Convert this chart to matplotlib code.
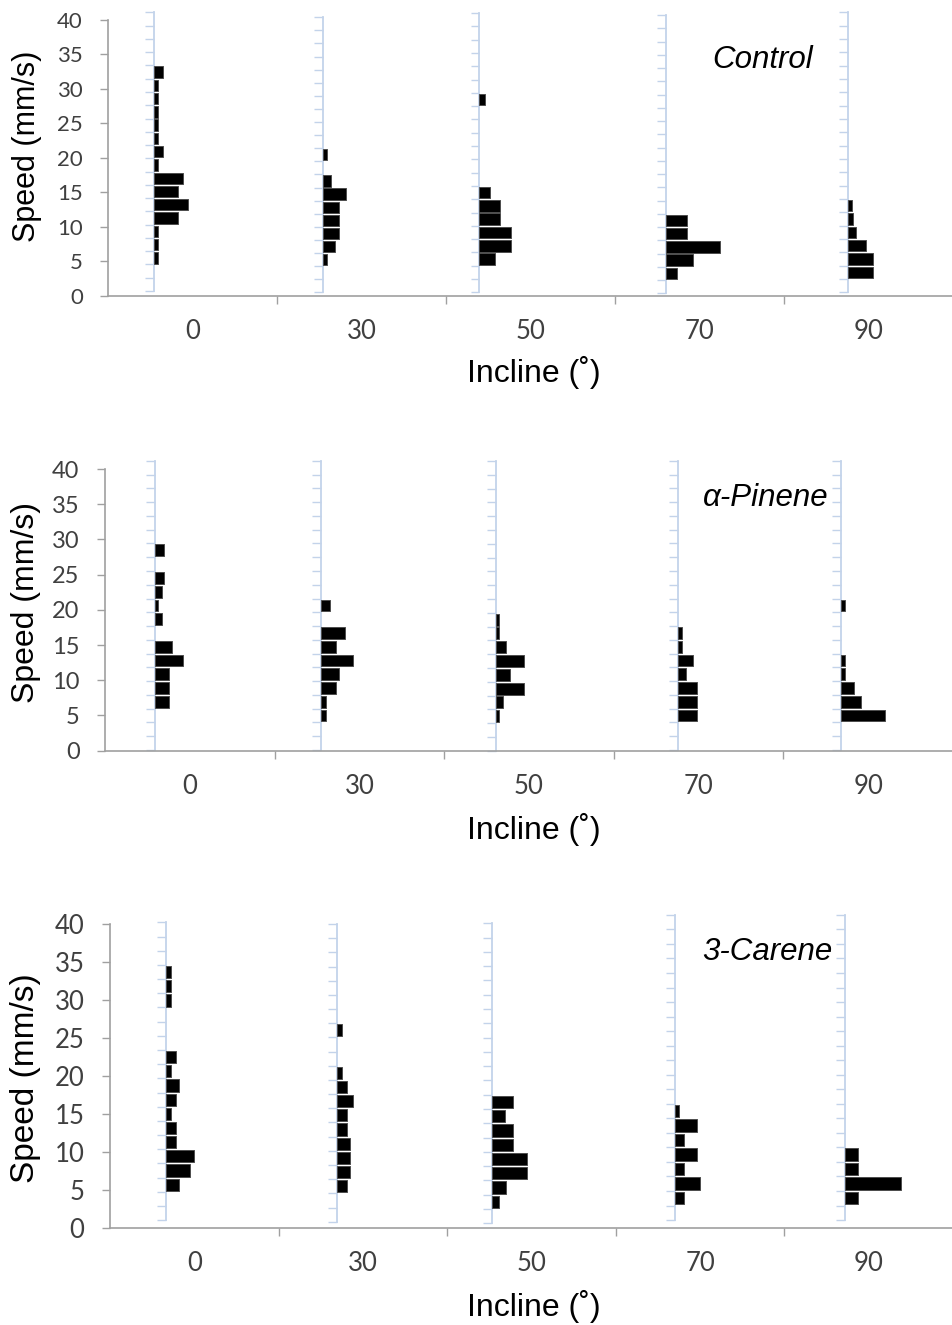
import matplotlib.pyplot as plt
import numpy as np

W, H = 953, 1325

inclines = ['0', '30', '50', '70', '90']
panel_names = ['Control', 'α-Pinene', '3-Carene']

# lower speed edge (mm/s) of the first bar in each histogram (bins are 2 mm/s)
control_start = [4, 4, 4, 2, 2]
pinene_start = [6, 4, 4, 4, 4]
carene_start = [4, 4, 2, 2, 2]

# bar lengths (relative frequency, common arbitrary unit), one list per incline
control_freq = [
    [4, 4, 4, 24.3, 34.3, 24.3, 29.3, 4, 9, 4, 4, 4, 4, 4, 9],
    [4.3, 11.7, 15.7, 15.7, 15.7, 23.3, 8.3, 0, 4.3],
    [15.7, 32.3, 32.3, 20.7, 20.7, 10.7, 0, 0, 0, 0, 0, 0, 5.7],
    [10.7, 27.3, 54, 20.7, 20.7],
    [26, 26, 18.7, 8.3, 5, 4.3],
]
pinene_freq = [
    [14, 14, 14, 29, 17.3, 0, 7.3, 3.3, 7.3, 9.7, 0, 9.7],
    [5, 5, 14.3, 17.7, 32.3, 14.3, 23.3, 0, 9],
    [2.7, 6.7, 28.3, 14.3, 28.3, 10.3, 2.7, 2.7],
    [18.3, 18.3, 18.3, 7.7, 14.3, 3.7, 3.7],
    [44.3, 20, 12.7, 3.3, 3.3, 0, 0, 0, 3.3],
]
carene_freq = [
    [13.7, 24.3, 28.3, 10, 10, 5, 10, 13.7, 5, 10, 0, 0, 0, 5, 5, 5],
    [10, 13.7, 13.7, 13.7, 10, 10, 16, 10, 5, 0, 0, 5],
    [7.3, 14, 35, 35, 21, 21, 13.3, 21],
    [8.7, 25.3, 8.7, 21.7, 8.7, 21.7, 3.3],
    [13.7, 57.7, 13.7, 13.7],
]

# layout (pixels of the 953x1325 picture)
panels = [
    dict(start=control_start, freq=control_freq, left=108.3, top=20, bottom=295.7, step=170.4,
         dx=[-0.230, -0.228, -0.303, -0.198, -0.124],
         lo=[0.68, 0.49, 0.49, 0.35, 0.49], hi=[41.1, 40.4, 41.0, 40.7, 41.1],
         ytick_fs=16, ylab=(27, 146, 22), xlab_y=372, name_xy=(763, 60)),
    dict(start=pinene_start, freq=pinene_freq, left=105, top=469, bottom=750.7, step=170.8,
         dx=[-0.207, -0.224, -0.193, -0.119, -0.158],
         lo=[0.1, 0.1, 0.0, 0.1, 0.1], hi=[41.15, 41.15, 41.15, 41.15, 41.15],
         ytick_fs=17, ylab=(26, 603, 23), xlab_y=829, name_xy=(766, 498)),
    dict(start=carene_start, freq=carene_freq, left=110, top=924, bottom=1227.7, step=171,
         dx=[-0.168, -0.155, -0.233, -0.147, -0.143],
         lo=[1.01, 0.79, 0.58, 1.01, 1.01], hi=[40.2, 40.0, 40.1, 41.2, 41.2],
         ytick_fs=18.5, ylab=(26, 1078, 24), xlab_y=1306, name_xy=(767, 952)),
]

AXIS_GRAY = '#a0a0a0'
TICK_TXT = '#404040'
MINI_BLUE = '#c3d3ea'
SANS = ['Liberation Sans', 'DejaVu Sans']

fig = plt.figure(figsize=(W / 100, H / 100), dpi=100)

for p, name in zip(panels, panel_names):
    rect = [p['left'] / W, 1 - p['bottom'] / H, (W - p['left']) / W, (p['bottom'] - p['top']) / H]
    ax = fig.add_axes(rect)
    ax.set_xlim(-0.5, -0.5 + (W - p['left']) / p['step'])
    ax.set_ylim(0, 40)
    for s in ['top', 'right']:
        ax.spines[s].set_visible(False)
    for s in ['left', 'bottom']:
        ax.spines[s].set_color(AXIS_GRAY)
        ax.spines[s].set_linewidth(1.2)

    ax.set_yticks(np.arange(0, 41, 5))
    ax.tick_params(axis='y', direction='out', length=5.8, width=1.0, color=AXIS_GRAY,
                   pad=12.5, labelsize=p['ytick_fs'], labelcolor=TICK_TXT)
    ax.set_xticks(range(len(inclines)))
    ax.set_xticklabels(inclines)
    ax.set_xticks(np.arange(0.5, 4.6, 1), minor=True)
    ax.tick_params(axis='x', which='major', length=0, pad=16.8, labelsize=18.5, labelcolor=TICK_TXT)
    ax.tick_params(axis='x', which='minor', direction='out', length=5.8, width=1.0, color=AXIS_GRAY)
    for lab in ax.get_xticklabels() + ax.get_yticklabels():
        lab.set_family(['Lato', 'DejaVu Sans'])

    for j in range(len(inclines)):
        x0 = j + p['dx'][j]
        lo, hi = p['lo'][j], p['hi'][j]
        sc = (hi - lo) / 42.0
        ax.plot([x0, x0], [lo, hi], color=MINI_BLUE, lw=1.3, clip_on=False, zorder=2)
        ax.hlines(lo + sc * np.arange(0, 43, 2), x0 - 9 / p['step'], x0,
                  color=MINI_BLUE, lw=1.0, clip_on=False, zorder=2)

        freq = np.array(p['freq'][j], dtype=float)
        speed = p['start'][j] + 2 * np.arange(len(freq))
        keep = freq > 0
        ax.barh(lo + sc * (speed[keep] + 1), freq[keep] / p['step'], height=2 * sc * 0.86,
                left=x0, color='black', edgecolor='#4d4d4d', linewidth=0.7,
                clip_on=False, zorder=3)

    lx, ly, lfs = p['ylab']
    fig.text(lx / W, 1 - ly / H, 'Speed (mm/s)', rotation=90, ha='center', va='center',
             fontsize=lfs, family=SANS)
    fig.text(534 / W, 1 - p['xlab_y'] / H, 'Incline (˚)', ha='center', va='center',
             fontsize=23, family=SANS)
    nx, ny = p['name_xy']
    fig.text(nx / W, 1 - ny / H, name, ha='center', va='center', fontsize=22.5,
             style='italic', family=SANS)

fig.savefig('out.png', dpi=100)
